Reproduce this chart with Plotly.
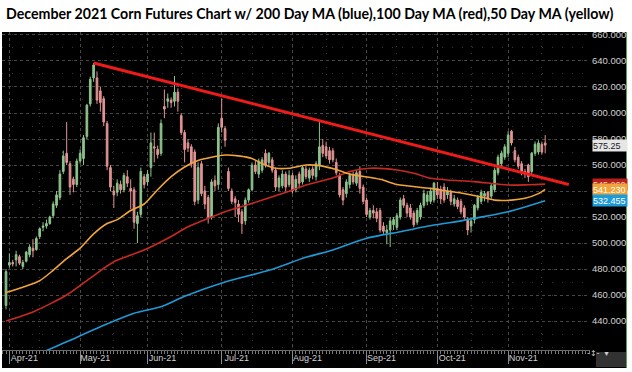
import pandas as pd
import plotly.graph_objects as go

title_text = "December 2021 Corn Futures Chart w/ 200 Day MA (blue),100 Day MA (red),50 Day MA (yellow)"

# Daily OHLC of the December 2021 corn contract (cents/bu), 31 Mar 2021 .. 16 Nov 2021
opens = [452, 483, 485, 487, 489.5, 482, 486, 491, 496, 495, 505, 512, 513, 515, 521, 529, 535, 555, 569, 561,
         549, 545, 563, 565, 582, 607, 627, 627, 617, 611, 592, 558, 540, 539, 545, 541, 551, 542, 541, 515,
         522, 551, 547, 558, 574, 572, 569, 605, 609, 610, 609, 616, 598, 585, 577, 574, 570, 533, 561, 540,
         535, 520, 548, 545, 596, 588, 555, 540, 534, 530, 524, 517, 533, 541, 560, 553, 556, 569, 562, 564,
         556, 543, 544, 553, 545, 552, 541, 553, 547, 557, 550, 557, 551, 560, 575, 574, 571, 571, 562, 552,
         541, 538, 545, 552, 546, 555, 543, 533, 520, 525, 524, 525, 513, 508, 510, 514, 512, 520, 534, 529,
         527, 523, 516, 520, 529, 532, 532, 533, 542, 541, 543, 537, 539, 530, 533, 532, 527, 518, 513, 518,
         527, 532, 536, 539, 536, 541, 554, 561, 566, 569, 586, 571, 566, 561, 555, 560, 555, 569, 570, 576,
         577]
highs = [480, 492, 487, 494, 491, 487, 494, 499, 503, 505, 512, 516, 518, 521, 532, 540, 556, 571, 593, 563,
         551, 565, 572, 583, 607, 628, 638.5, 632, 620, 613, 594, 560, 544, 549, 548, 554, 556, 549, 543, 524,
         558, 553, 556, 585, 585, 575, 595, 618, 615, 612, 628.5, 619, 600, 587, 580, 576, 572, 562, 563, 544,
         537, 549, 552, 592, 611, 590, 558, 542, 536, 533, 526, 535, 542, 562, 563, 565, 566, 572, 570, 566,
         558, 552, 556, 555, 556, 554, 552, 555, 560, 560, 558, 559, 563, 593, 580, 578, 574, 573, 565, 554,
         543, 549, 554, 555, 556, 559, 545, 535, 527, 529, 527, 527, 516, 514, 520, 520, 523, 535, 537, 531,
         530, 525, 527, 531, 541, 540, 542, 547, 547, 544, 546, 543, 541, 537, 535, 534, 529, 520, 519, 530,
         537, 541, 540, 540, 546, 558, 568, 571, 576, 586, 587, 574, 568, 563, 557, 561, 570, 578, 579, 578,
         583]
lows = [449, 481, 482, 482, 483, 480, 485, 489, 489, 494, 503, 509, 511, 514, 519, 527, 533, 553, 560, 537,
        539, 543, 561, 560, 580, 605, 624, 607, 601, 590, 556, 540, 527, 536, 538, 539, 543, 526, 511, 500,
        520, 542, 544, 551, 562, 565, 567, 596, 604, 604, 605, 601, 583, 562, 570, 558, 529, 530, 536, 526,
        515, 518, 540, 541, 585, 574, 540, 530, 520, 516, 507, 514, 531, 540, 553, 550, 554, 558, 559, 554,
        540, 540, 542, 540, 543, 538, 539, 542, 545, 549, 547, 549, 548, 556, 566, 565, 561, 562, 552, 535,
        529, 535, 542, 545, 544, 538, 530, 520, 518, 519, 516, 508, 507, 499, 497, 510, 510, 518, 527, 520,
        518, 512, 514, 518, 527, 529, 530, 531, 534, 530, 531, 534, 529, 528, 526, 522, 518, 506, 508, 515,
        525, 530, 532, 531, 534, 539, 552, 559, 564, 566, 575, 562, 557, 552, 550, 547, 553, 567, 568, 568,
        569]
closes = [478, 485, 484, 491, 484.5, 485, 493, 497, 494, 503.5, 511, 513, 515, 520, 530, 537, 553, 567, 562, 543,
          545, 563, 569, 581, 606, 626, 637, 610, 608, 593, 559, 543, 537, 546, 541, 552, 546, 540, 516, 521,
          555, 545, 553, 577, 573, 568, 592, 603, 611, 608, 616, 609, 585, 572, 573, 561, 532, 558, 538, 530,
          520, 547, 544, 589, 589, 579, 542, 532, 531, 522, 515, 533, 541, 560, 555, 563, 564, 560, 569, 556,
          543, 550, 553, 543, 552, 540, 549, 546, 558, 551, 556, 552, 561, 574, 569, 567, 564, 564, 554, 537,
          533, 547, 552, 547, 554, 542, 532, 522, 525, 523, 519, 510, 509, 510, 517, 518, 521, 533, 529, 523,
          520, 514, 525, 529, 538, 537, 540, 546, 537, 534, 533, 540, 532, 534, 528, 524, 520, 510, 517, 529,
          535, 539, 538, 534, 544, 556, 566, 569, 574, 583, 577, 564, 559, 554, 553, 551, 569, 576, 577, 570,
          575.25]

# Moving averages (trading-day index -> value)
ma50_idx = [0, 5, 10, 14, 18, 22, 26, 30, 33, 37, 41, 45, 49, 53, 57, 61, 65, 69, 73, 76, 80, 84, 89, 93,
            98, 102, 111, 116, 126, 131, 135, 140, 145, 150, 154, 158, 160]
ma50_val = [462, 466, 471, 479, 488, 496, 507, 515, 518, 525, 530, 541, 551, 558.5, 563.5, 566, 567.7, 567, 565,
            561, 557.5, 557.5, 560, 559.5, 556.5, 553, 549, 545, 542, 540, 538.5, 536, 533, 533, 534.4, 538, 541.23]
ma100_idx = [0, 8, 18, 25, 32, 41, 49, 54, 61, 65, 70, 82, 89, 97, 102, 108, 116, 121, 126, 131, 139, 149, 155, 160]
ma100_val = [440, 447, 460, 473, 485.6, 494.6, 505, 512.5, 520, 524, 528, 538, 544.6, 550, 555, 557.5, 556.2,
             553.6, 549.8, 548.5, 547.2, 544.6, 544.8, 545.26]
ma200_idx = [0, 10, 18, 28, 38, 46, 53, 65, 78, 89, 97, 107, 117, 127, 135, 139, 149, 160]
ma200_val = [403, 415, 424, 435.6, 446, 451, 459, 470, 479, 489, 494.6, 503.6, 508.7, 513.8, 517, 519, 524, 532.455]

# Hand-drawn resistance line (trading-day index -> price)
trend_idx = [26, 167]
trend_val = [638.5, 545]

month_labels = ["Apr-21", "May-21", "Jun-21", "Jul-21", "Aug-21", "Sep-21", "Oct-21", "Nov-21"]
month_nums = [4, 5, 6, 7, 8, 9, 10, 11]
y_ticks = [440, 460, 480, 500, 520, 540, 560, 580, 600, 620, 640, 660]

holidays = ["2021-04-02", "2021-05-31", "2021-07-05", "2021-09-06"]
dates = [d for d in pd.bdate_range("2021-03-31", "2021-11-30") if d.strftime("%Y-%m-%d") not in holidays]
idx = list(range(len(closes)))
month_idx = [next(i for i, d in enumerate(dates) if d.month == m) for m in month_nums]
mid_idx = [next(i for i, d in enumerate(dates) if d.month == m and d.day >= 15) for m in month_nums]

GREEN = "#8CC48C"
PINK = "#E29393"
ORANGE = "#F0A43A"
DKRED = "#C62A22"
BLUE = "#1E9AD6"
TREND = "#EE1B1B"
GRID = "#474747"
TXT = "#D2D2D2"
FONT = "Liberation Sans"

# pixel geometry of the plot area
W, H = 632, 372
PL, PR, PT, PB = 2, 590, 32, 350


def xp(px):
    return (px - PL) / (PR - PL)


def yp(py):
    return (PB - py) / (PB - PT)


fig = go.Figure()
fig.add_trace(go.Candlestick(
    x=idx, open=opens, high=highs, low=lows, close=closes,
    increasing=dict(line=dict(color=GREEN, width=1), fillcolor=GREEN),
    decreasing=dict(line=dict(color=PINK, width=1), fillcolor=PINK),
    whiskerwidth=0, showlegend=False, hoverinfo="skip"))
for xs, ys, col in [(ma200_idx, ma200_val, BLUE), (ma100_idx, ma100_val, DKRED), (ma50_idx, ma50_val, ORANGE)]:
    fig.add_trace(go.Scatter(x=xs, y=ys, mode="lines", showlegend=False, hoverinfo="skip",
                             line=dict(color=col, width=1.6, shape="spline", smoothing=0.7)))
fig.add_trace(go.Scatter(x=trend_idx, y=trend_val, mode="lines", xaxis="x2", showlegend=False,
                         hoverinfo="skip", line=dict(color=TREND, width=3)))

shapes = [
    dict(type="rect", xref="paper", yref="paper", x0=xp(2), x1=xp(626), y0=yp(368), y1=yp(32),
         fillcolor="black", line=dict(width=0), layer="below"),
    dict(type="line", xref="paper", yref="paper", x0=xp(626.5), x1=xp(626.5), y0=yp(368), y1=yp(32),
         line=dict(color="#5aa05a", width=1), layer="below"),
    dict(type="rect", xref="paper", yref="paper", x0=xp(596), x1=xp(626), y0=yp(367), y1=yp(352),
         fillcolor="#323232", line=dict(width=0), layer="below"),
]

annotations = []
boxes = [
    (f"{closes[-1]:.2f}", closes[-1], "#E6E6E6", "#202020"),
    (f"{ma100_val[-1]:.3f}", ma100_val[-1], "#B8201C", "#F4D0D0"),
    (f"{ma50_val[-1]:.3f}", ma50_val[-1], ORANGE, "#FFFFFF"),
    (f"{ma200_val[-1]:.3f}", ma200_val[-1], BLUE, "#FFFFFF"),
]
for text, val, bg, fg in boxes:
    annotations.append(dict(x=1, xref="paper", y=val, yref="y", xanchor="left", yanchor="middle",
                            xshift=2, text=text, showarrow=False, bgcolor=bg, width=34, height=11,
                            align="left", borderpad=0, font=dict(color=fg, size=9, family=FONT)))
annotations.append(dict(x=xp(611), xref="paper", y=yp(359.5), yref="paper", text="-↕-  ▾",
                        showarrow=False, font=dict(color="#CFCFCF", size=8, family="DejaVu Sans")))

fig.update_layout(
    width=W, height=H,
    margin=dict(l=PL, r=W - PR, t=PT, b=H - PB, pad=0, autoexpand=False),
    paper_bgcolor="white", plot_bgcolor="black",
    title=dict(text=title_text, x=6 / W, xanchor="left", xref="container",
               y=1 - 14 / H, yref="container", yanchor="middle",
               font=dict(family="Lato", size=14.2, color="black", weight="bold")),
    showlegend=False,
    shapes=shapes, annotations=annotations,
    xaxis=dict(type="linear", range=[(PL - 6) / 3.37, (PR - 6) / 3.37], rangeslider=dict(visible=False),
               tickvals=month_idx, ticktext=month_labels, ticks="outside", ticklen=13, tickcolor="#8a8a8a",
               tickwidth=1, showline=True, linecolor="#6a6a6a", linewidth=1,
               showgrid=True, gridcolor=GRID, griddash="dot", gridwidth=1, zeroline=False,
               tickfont=dict(color=TXT, size=9, family=FONT), ticklabelshift=15, ticklabelstandoff=-14,
               minor=dict(dtick=1, tick0=0, ticks="outside", ticklen=3, tickcolor="#777777", showgrid=False),
               automargin=False, fixedrange=True),
    xaxis2=dict(overlaying="x", matches="x", anchor="y", tickvals=mid_idx, showticklabels=False, ticks="",
                showgrid=True, gridcolor="#3a3a3a", griddash="1px,6px", showline=False, zeroline=False,
                automargin=False),
    yaxis=dict(range=[417.7, 662.3], side="right", tickvals=y_ticks,
               ticktext=[f"{v:.3f}" for v in y_ticks], ticks="", showgrid=True, gridcolor=GRID,
               griddash="dot", zeroline=False, showline=False,
               tickfont=dict(color=TXT, size=9.5, family=FONT), ticklabelstandoff=1,
               minor=dict(dtick=10, tick0=0, showgrid=True, gridcolor="#363636", griddash="1px,9px"),
               automargin=False, fixedrange=True),
)

fig.write_html("out.html", config={"displayModeBar": False},
               post_script="document.body.style.margin='0';document.body.style.overflow='hidden';")
